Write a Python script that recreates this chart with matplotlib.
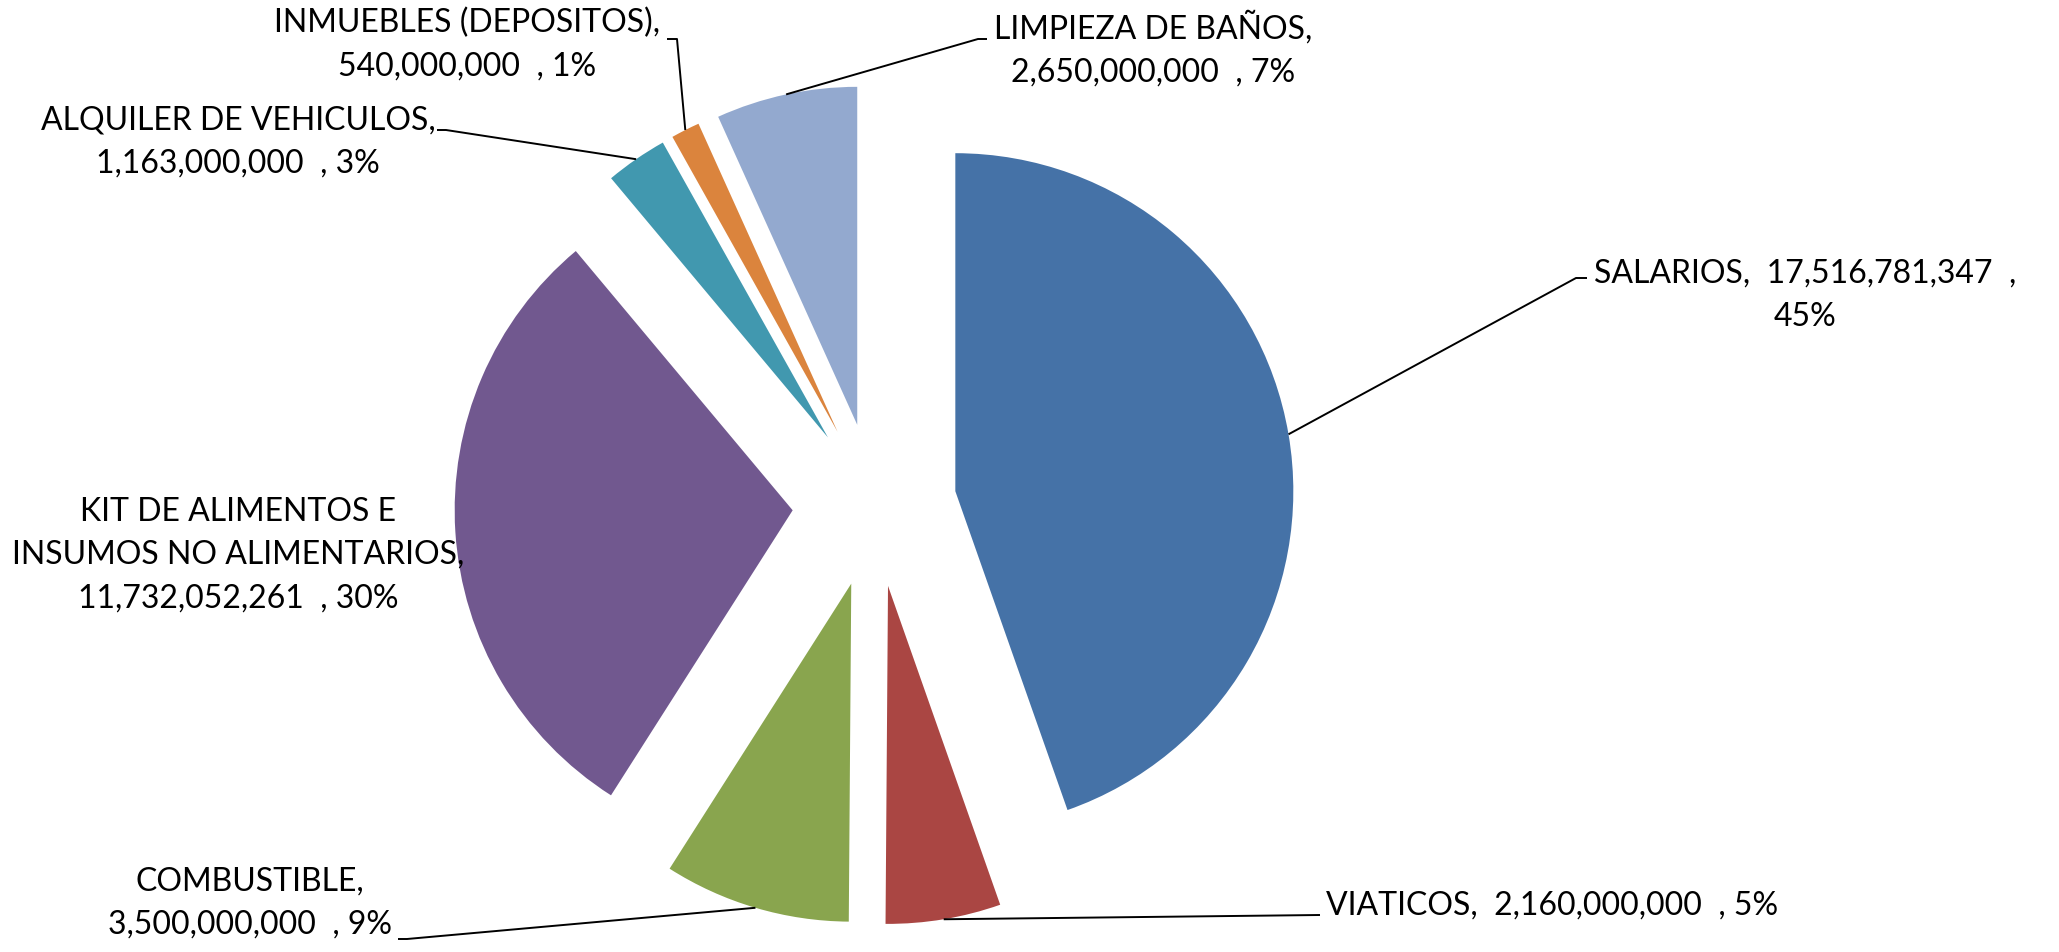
import math
import matplotlib
matplotlib.use('Agg')
import matplotlib.pyplot as plt

# data
categories = ['SALARIOS', 'VIATICOS', 'COMBUSTIBLE',
              'KIT DE ALIMENTOS E\nINSUMOS NO ALIMENTARIOS',
              'ALQUILER DE VEHICULOS', 'INMUEBLES (DEPOSITOS)', 'LIMPIEZA DE BAÑOS']
values = [17516781347, 2160000000, 3500000000, 11732052261,
          1163000000, 540000000, 2650000000]
pct_labels = [45, 5, 9, 30, 3, 1, 7]

colors = ['#4572A7', '#AA4643', '#89A54E', '#71588F', '#4198AF', '#DB843D', '#93A9CF']

W, H = 2059, 952

# label layout, in pixels from top-left: text position, alignment, how to join
label_fmt = ['{n},  {v}  ,\n{p}%', '{n},  {v}  , {p}%', '{n},\n{v}  , {p}%',
             '{n},\n{v}  , {p}%', '{n},\n{v}  , {p}%', '{n},\n{v}  , {p}%',
             '{n},\n{v}  , {p}%']
label_pos = [(1805, 295), (1326, 906), (250, 903), (238, 555),
             (238, 142), (467, 45), (1153, 49)]
label_ha = ['center', 'left', 'center', 'center', 'center', 'center', 'center']
# leader lines: (elbow, end) or None
leaders = [((1576, 278), (1587, 278)),
           ((1320, 915), (1320, 915)),
           ((407, 939), (398, 939)),
           None,
           ((446, 130), (437, 130)),
           ((677, 39), (667, 39)),
           ((978, 39), (987, 39))]

plt.rcParams['font.family'] = ['Lato', 'DejaVu Sans']

fig = plt.figure(figsize=(W / 100, H / 100), dpi=100)
ax = fig.add_axes([0, 0, 1, 1])

radius = 338
wedges, _ = ax.pie(values, colors=colors, startangle=90, counterclock=False,
                   radius=radius, center=(874.5, H - 505),
                   explode=[82] * len(values), frame=True,
                   wedgeprops=dict(linewidth=0))

ax.set_xlim(0, W)
ax.set_ylim(0, H)
ax.set_aspect('equal')
ax.axis('off')

for i, w in enumerate(wedges):
    txt = label_fmt[i].format(n=categories[i], v=f'{values[i]:,}', p=pct_labels[i])
    x, y = label_pos[i]
    ax.text(x, H - y, txt, ha=label_ha[i], va='center', fontsize=23,
            linespacing=1.55, color='black')

    if leaders[i] is None:
        continue
    th = math.radians((w.theta1 + w.theta2) / 2)
    ax0 = w.center[0] + w.r * math.cos(th)
    ay0 = w.center[1] + w.r * math.sin(th)
    (ex, ey), (tx, ty) = leaders[i]
    ax.plot([ax0, ex, tx], [ay0, H - ey, H - ty], color='black', lw=1.4,
            solid_capstyle='butt')

fig.savefig('out.png', dpi=100, facecolor='white')
